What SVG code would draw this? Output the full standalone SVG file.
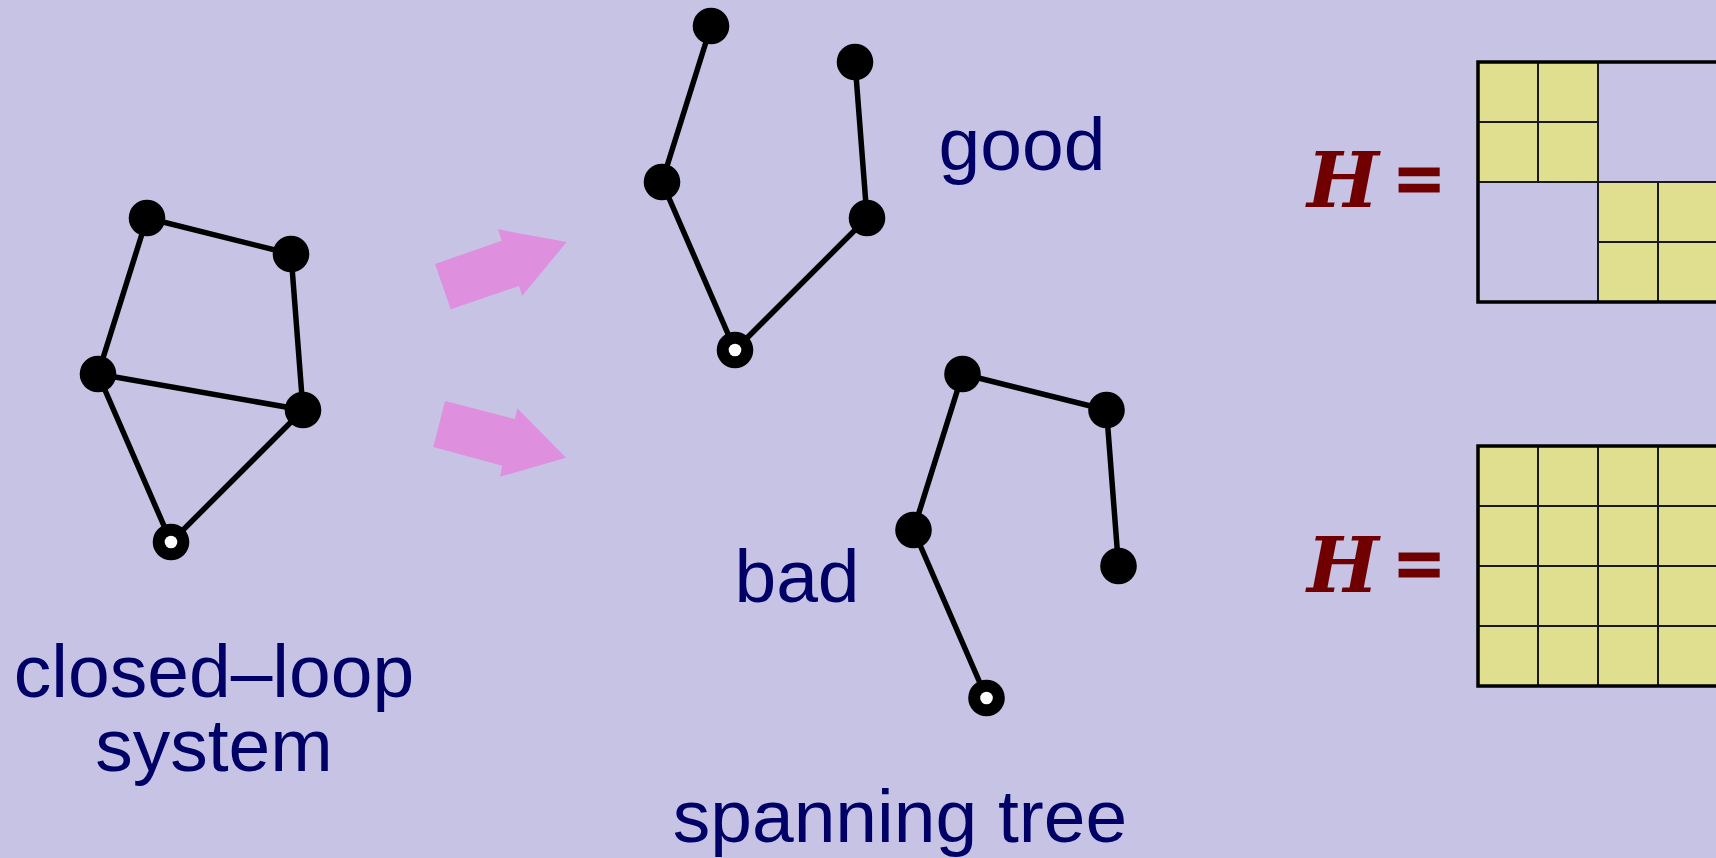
<svg xmlns="http://www.w3.org/2000/svg" width="1716" height="858" viewBox="0 0 1716 858">
<defs>
<style>
.edge{stroke:#000;stroke-width:5.5;fill:none;stroke-linecap:round}
.nd{fill:#000}
.hole{fill:#fff}
.lbl{font-family:"Liberation Sans",Arial,sans-serif;font-size:75px;fill:#000066}
.hh{font-family:"DejaVu Serif","Liberation Serif",serif;font-size:76px;font-weight:bold;font-style:italic;fill:#700000}
.eq{font-family:"Liberation Serif","Times New Roman",serif;font-size:82px;font-weight:bold;fill:#700000;stroke:#700000;stroke-width:3}
.arr{fill:#DE90DE}
.yel{fill:#E0DF8F}
.grid{stroke:#1a1a1a;stroke-width:2;fill:none}
.frame{stroke:#000;stroke-width:3.5;fill:none}
</style>
</defs>
<rect x="0" y="0" width="1716" height="858" fill="#C7C3E4"/>

<g id="connectors">
  <!-- closed-loop -->
  <line class="edge" x1="147" y1="218" x2="291" y2="254"/>
  <line class="edge" x1="147" y1="218" x2="98" y2="374"/>
  <line class="edge" x1="291" y1="254" x2="303" y2="410"/>
  <line class="edge" x1="98" y1="374" x2="303" y2="410"/>
  <line class="edge" x1="98" y1="374" x2="171" y2="542"/>
  <line class="edge" x1="303" y1="410" x2="171" y2="542"/>
  <!-- good tree -->
  <line class="edge" x1="711" y1="26" x2="662" y2="182"/>
  <line class="edge" x1="662" y1="182" x2="735" y2="350"/>
  <line class="edge" x1="735" y1="350" x2="867" y2="218"/>
  <line class="edge" x1="867" y1="218" x2="855" y2="62"/>
  <!-- bad tree -->
  <line class="edge" x1="962.5" y1="374" x2="1106.5" y2="410"/>
  <line class="edge" x1="962.5" y1="374" x2="913.5" y2="530"/>
  <line class="edge" x1="913.5" y1="530" x2="986.5" y2="698"/>
  <line class="edge" x1="1106.5" y1="410" x2="1118.5" y2="566"/>
  <!-- arrows -->
  <polygon class="arr" points="435,264 501.7,240.7 498,229.3 566.7,242 522,296 519,286 450.7,309.3"/>
  <polygon class="arr" points="445,401 515,419 517.3,408.3 566,457.7 500,476.7 502.3,465.7 433.3,447"/>
</g>

<g id="closed-loop">
  <circle class="nd" cx="147" cy="218" r="18.3"/>
  <circle class="nd" cx="291" cy="254" r="18.3"/>
  <circle class="nd" cx="98" cy="374" r="18.3"/>
  <circle class="nd" cx="303" cy="410" r="18.3"/>
  <circle class="nd" cx="171" cy="542" r="18.3"/>
  <circle class="hole" cx="171" cy="542" r="6.3"/>
  <text class="lbl" x="214" y="697" text-anchor="middle">closed–loop</text>
  <text class="lbl" x="214" y="771" text-anchor="middle">system</text>
</g>

<g id="good-tree">
  <circle class="nd" cx="711" cy="26" r="18.3"/>
  <circle class="nd" cx="855" cy="62" r="18.3"/>
  <circle class="nd" cx="662" cy="182" r="18.3"/>
  <circle class="nd" cx="867" cy="218" r="18.3"/>
  <circle class="nd" cx="735" cy="350" r="18.3"/>
  <circle class="hole" cx="735" cy="350" r="6.3"/>
  <text class="lbl" x="1022" y="170" text-anchor="middle">good</text>
</g>

<g id="bad-tree">
  <circle class="nd" cx="962.5" cy="374" r="18.3"/>
  <circle class="nd" cx="1106.5" cy="410" r="18.3"/>
  <circle class="nd" cx="913.5" cy="530" r="18.3"/>
  <circle class="nd" cx="1118.5" cy="566" r="18.3"/>
  <circle class="nd" cx="986.5" cy="698" r="18.3"/>
  <circle class="hole" cx="986.5" cy="698" r="6.3"/>
  <text class="lbl" x="797" y="602" text-anchor="middle">bad</text>
</g>

<text class="lbl" x="900" y="842" text-anchor="middle">spanning tree</text>

<g id="matrix-good">
  <text class="hh" x="1307" y="207">H</text>
  <text class="eq" x="1396" y="207">=</text>
  <rect class="yel" x="1478" y="62" width="120" height="120"/>
  <rect class="yel" x="1598" y="182" width="120" height="120"/>
  <path class="grid" d="M1538 62V182M1478 122H1598M1658 182V302M1598 242H1718M1598 62V302M1478 182H1718"/>
  <rect class="frame" x="1478" y="62" width="240" height="240"/>
</g>

<g id="matrix-bad">
  <text class="hh" x="1307" y="592">H</text>
  <text class="eq" x="1396" y="592">=</text>
  <rect class="yel" x="1478" y="446" width="240" height="240"/>
  <path class="grid" d="M1538 446V686M1598 446V686M1658 446V686M1478 506H1718M1478 566H1718M1478 626H1718"/>
  <rect class="frame" x="1478" y="446" width="240" height="240"/>
</g>
</svg>
